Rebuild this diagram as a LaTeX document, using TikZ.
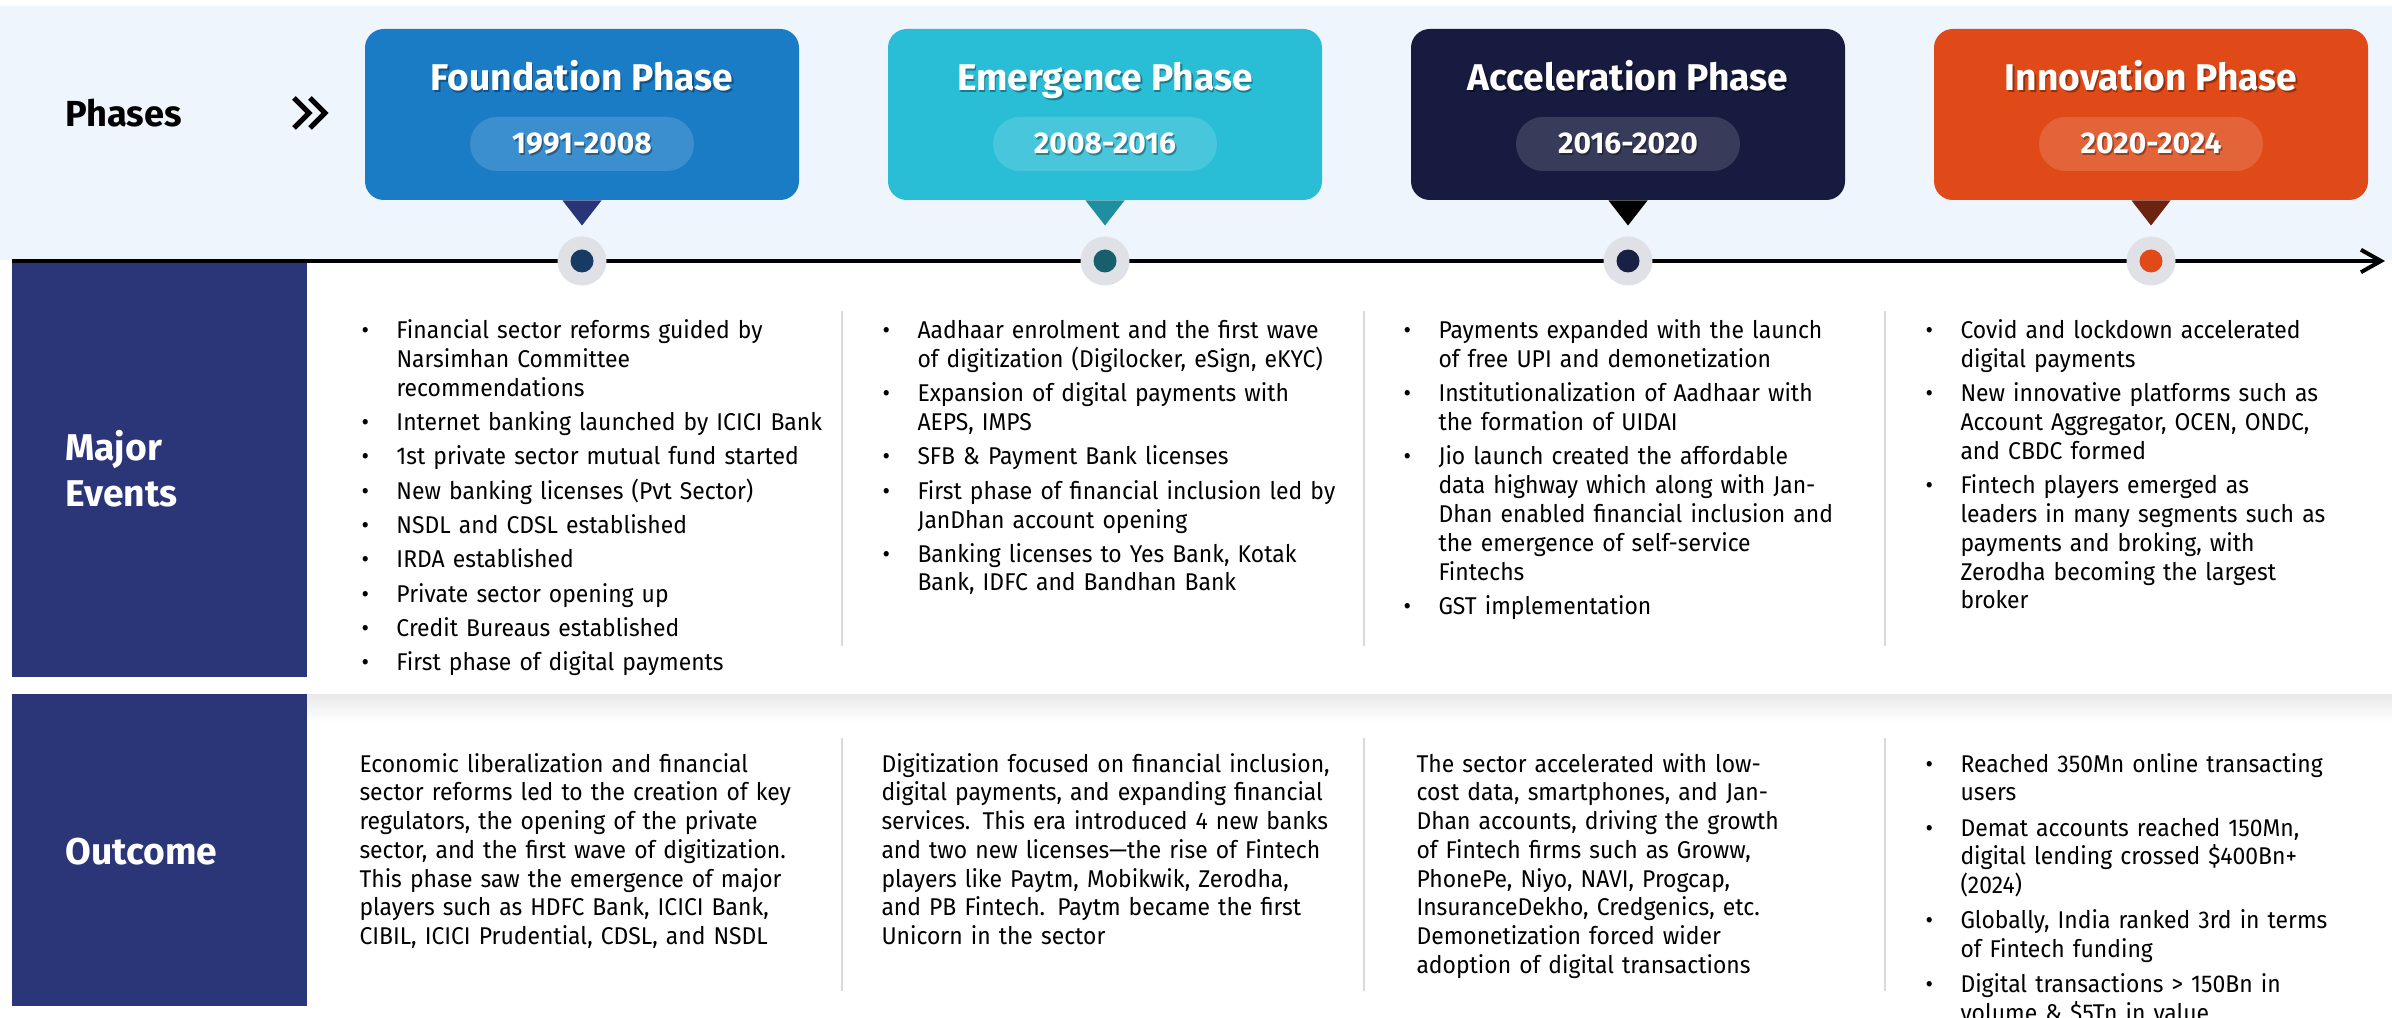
\documentclass[tikz,border=0pt]{standalone}
\usepackage{fontspec}
\setmainfont{Fira Sans}[FakeStretch=0.945]
\newfontfamily\headfont{Fira Sans}
\usetikzlibrary{arrows.meta}
\definecolor{band}{HTML}{EEF5FD}
\definecolor{fnd}{HTML}{1B7CC6}
\definecolor{emg}{HTML}{29BDD6}
\definecolor{acc}{HTML}{161B3F}
\definecolor{inn}{HTML}{E04A18}
\definecolor{fndt}{HTML}{2A3579}
\definecolor{emgt}{HTML}{1F8E9F}
\definecolor{acct}{HTML}{000000}
\definecolor{innt}{HTML}{6E2210}
\definecolor{fndd}{HTML}{173B63}
\definecolor{emgd}{HTML}{17606B}
\definecolor{accd}{HTML}{1A1F46}
\definecolor{innd}{HTML}{E04A18}
\definecolor{halo}{HTML}{DFE1E7}
\definecolor{panel}{HTML}{2B3679}
\definecolor{sepc}{HTML}{D9D9D9}
\newcommand{\bodyfont}{\fontsize{9.7pt}{11.5pt}\selectfont}
\newcommand{\bitem}[1]{\begingroup\let\\\newline\hangindent=14pt\hangafter=1\noindent\makebox[14pt][l]{\textbullet}#1\par\endgroup}
\tikzset{
  phasebox/.style={minimum width=173.6pt, minimum height=68.4pt, rounded corners=7.5pt, inner sep=0pt},
  pill/.style={fill=white, fill opacity=0.15, minimum width=89.6pt, minimum height=21.6pt, rounded corners=10.8pt, inner sep=0pt},
  titletext/.style={anchor=base, inner sep=0pt, text=white, font=\fontsize{14.9pt}{16pt}\selectfont\headfont\bfseries},
  titleshadow/.style={anchor=base, inner sep=0pt, text=black, text opacity=0.35, font=\fontsize{14.9pt}{16pt}\selectfont\headfont\bfseries},
  datetext/.style={anchor=base, inner sep=0pt, text=white, font=\fontsize{12pt}{13pt}\selectfont\headfont\bfseries},
  dateshadow/.style={anchor=base, inner sep=0pt, text=black, text opacity=0.35, font=\fontsize{12pt}{13pt}\selectfont\headfont\bfseries},
  halodot/.style={circle, fill=halo, minimum size=19.6pt, inner sep=0pt},
  markdot/.style={circle, minimum size=9.2pt, inner sep=0pt},
  rowlabel/.style={anchor=base west, inner sep=0pt, text=white, text width=100pt, font=\fontsize{14.9pt}{18pt}\selectfont\headfont\bfseries},
  col/.style={anchor=base west, inner sep=0pt, text width=205pt, font=\bodyfont},
  sepline/.style={draw=sepc, line width=0.8pt},
}
\begin{document}
\begin{tikzpicture}[x=0.4pt, y=-0.4pt]
\useasboundingbox (0,0) rectangle (2392,1018);
\clip (0,0) rectangle (2392,1018);
\fill[white] (0,0) rectangle (2392,1018);
% top band
\fill[band] (0,6) rectangle (2392,260);
% Phases label and chevrons
\node[anchor=base west, inner sep=0pt, font=\fontsize{14.5pt}{16pt}\selectfont\headfont\bfseries] (phl) at (65,127) {Phases};
\draw[line width=2pt, miter limit=10] (294,98) -- (309,113) -- (294,128);
\draw[line width=2pt, miter limit=10] (310,98) -- (325,113) -- (310,128);
% timeline
\coordinate (tl0) at (12,261);
\coordinate (tl1) at (2385,261);
\draw[line width=1.6pt, -{Straight Barb[length=8pt, width=9pt, line width=1.6pt]}] (tl0) -- (tl1);
% phases
\foreach \i/\cx/\ttl/\dts/\bc/\tc/\dc in {
  1/582/Foundation Phase/1991-2008/fnd/fndt/fndd,
  2/1105/Emergence Phase/2008-2016/emg/emgt/emgd,
  3/1628/Acceleration Phase/2016-2020/acc/acct/accd,
  4/2151/Innovation Phase/2020-2024/inn/innt/innd}{
  \node[phasebox, fill=\bc] (p\i) at (\cx,114.5) {};
  \node[pill] (d\i) at (\cx,144) {};
  \node[titleshadow] (ts\i) at (\cx+1.5,92.5) {\ttl};
  \node[titletext] (t\i) at (\cx,91) {\ttl};
  \node[dateshadow] (ds\i) at (\cx+1.5,155.5) {\dts};
  \node[datetext] (dt\i) at (\cx,154) {\dts};
  \fill[\tc] ([xshift=-7.8pt]p\i.south) -- ([xshift=7.8pt]p\i.south) -- ([yshift=-10pt]p\i.south) -- cycle;
  \node[halodot] (h\i) at (\cx,261) {};
  \node[markdot, fill=\dc] (m\i) at (\cx,261) {};
}
% left panels
\fill[panel] (12,263) rectangle (307,677);
\fill[panel] (12,694) rectangle (307,1006);
\node[rowlabel] (lev) at (65,461) {Major\\Events};
\node[rowlabel] (lout) at (65,864) {Outcome};
% shadow between sections
\shade[top color=black!9, bottom color=white] (307,694) rectangle (2392,722);
% separators
\foreach \sx in {842,1364,1885}{
  \draw[sepline] (\sx,311) -- (\sx,646);
  \draw[sepline] (\sx,738) -- (\sx,991);
}
% major events
\node[col] (ev1) at (361,339) {\setlength{\parskip}{2.2pt}%
\bitem{Financial sector reforms guided by\\Narsimhan Committee\\recommendations}%
\bitem{Internet banking launched by ICICI Bank}%
\bitem{1st private sector mutual fund started}%
\bitem{New banking licenses (Pvt Sector)}%
\bitem{NSDL and CDSL established}%
\bitem{IRDA established}%
\bitem{Private sector opening up}%
\bitem{Credit Bureaus established}%
\bitem{First phase of digital payments}};
\node[col] (ev2) at (882,339) {\setlength{\parskip}{2.2pt}%
\bitem{Aadhaar enrolment and the first wave\\of digitization (Digilocker, eSign, eKYC)}%
\bitem{Expansion of digital payments with\\AEPS, IMPS}%
\bitem{SFB \& Payment Bank licenses}%
\bitem{First phase of financial inclusion led by\\JanDhan account opening}%
\bitem{Banking licenses to Yes Bank, Kotak\\Bank, IDFC and Bandhan Bank}};
\node[col] (ev3) at (1403,339) {\setlength{\parskip}{2.2pt}%
\bitem{Payments expanded with the launch\\of free UPI and demonetization}%
\bitem{Institutionalization of Aadhaar with\\the formation of UIDAI}%
\bitem{Jio launch created the affordable\\data highway which along with Jan-\\Dhan enabled financial inclusion and\\the emergence of self-service\\Fintechs}%
\bitem{GST implementation}};
\node[col] (ev4) at (1925,339) {\setlength{\parskip}{2.2pt}%
\bitem{Covid and lockdown accelerated\\digital payments}%
\bitem{New innovative platforms such as\\Account Aggregator, OCEN, ONDC,\\and CBDC formed}%
\bitem{Fintech players emerged as\\leaders in many segments such as\\payments and broking, with\\Zerodha becoming the largest\\broker}};
% outcomes
\node[col] (oc1) at (359,772) {\raggedright Economic liberalization and financial\\sector reforms led to the creation of key\\regulators, the opening of the private\\sector, and the first wave of digitization.\\This phase saw the emergence of major\\players such as HDFC Bank, ICICI Bank,\\CIBIL, ICICI Prudential, CDSL, and NSDL};
\node[col] (oc2) at (881,772) {\raggedright Digitization focused on financial inclusion,\\digital payments, and expanding financial\\services. This era introduced 4 new banks\\and two new licenses---the rise of Fintech\\players like Paytm, Mobikwik, Zerodha,\\and PB Fintech. Paytm became the first\\Unicorn in the sector};
\node[col] (oc3) at (1416,772) {\raggedright The sector accelerated with low-\\cost data, smartphones, and Jan-\\Dhan accounts, driving the growth\\of Fintech firms such as Groww,\\PhonePe, Niyo, NAVI, Progcap,\\InsuranceDekho, Credgenics, etc.\\Demonetization forced wider\\adoption of digital transactions};
\node[col] (oc4) at (1925,772) {\setlength{\parskip}{2.6pt}%
\bitem{Reached 350Mn online transacting\\users}%
\bitem{Demat accounts reached 150Mn,\\digital lending crossed \$400Bn+\\(2024)}%
\bitem{Globally, India ranked 3rd in terms\\of Fintech funding}%
\bitem{Digital transactions > 150Bn in\\volume \& \$5Tn in value}};
\end{tikzpicture}
\end{document}
